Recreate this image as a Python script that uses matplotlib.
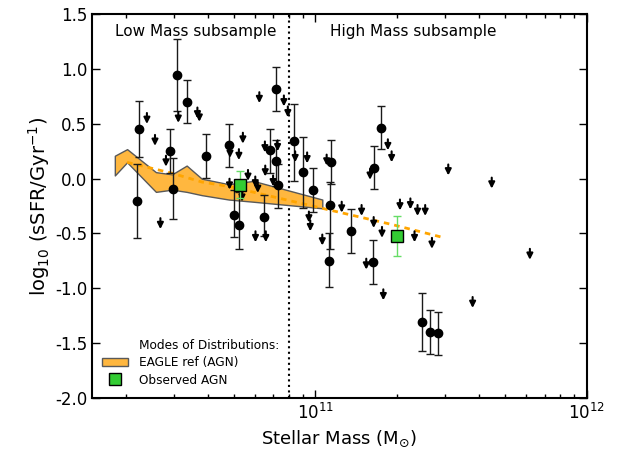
import numpy as np
import matplotlib.pyplot as plt
from matplotlib.patches import Patch
from matplotlib.lines import Line2D

# detections: stellar mass, log sSFR and the two ends of the error bar
det_mass = [2.23e10, 2.20e10, 3.08e10, 3.37e10, 2.90e10, 2.99e10, 3.94e10, 4.82e10,
            5.01e10, 5.21e10, 6.47e10, 6.81e10, 7.15e10, 7.16e10, 7.29e10, 8.32e10,
            8.97e10, 9.78e10, 1.14e11, 1.13e11, 1.12e11, 1.35e11, 1.63e11, 1.65e11,
            1.74e11, 2.47e11, 2.64e11, 2.84e11]
det_ssfr = [0.45, -0.20, 0.95, 0.70, 0.25, -0.09, 0.21, 0.31, -0.33, -0.42, -0.35, 0.26,
            0.16, 0.82, -0.06, 0.34, 0.06, -0.10, 0.15, -0.24, -0.75, -0.48, -0.76, 0.10,
            0.46, -1.31, -1.40, -1.41]
det_hi = [0.71, 0.13, 1.28, 0.90, 0.45, 0.19, 0.41, 0.50, -0.10, -0.12, -0.15, 0.45,
          0.35, 1.02, 0.13, 0.68, 0.38, 0.10, 0.35, -0.03, -0.50, -0.28, -0.56, 0.30,
          0.66, -1.04, -1.20, -1.22]
det_lo = [0.20, -0.54, 0.62, 0.51, 0.05, -0.37, 0.01, 0.11, -0.53, -0.64, -0.52, 0.05,
          -0.07, 0.62, -0.27, -0.02, -0.27, -0.30, -0.05, -0.64, -0.99, -0.68, -0.96, -0.09,
          0.27, -1.57, -1.60, -1.61]

# upper limits
lim_mass = [2.39e10, 2.56e10, 3.12e10, 3.67e10, 3.73e10, 2.81e10, 2.68e10, 5.40e10, 5.22e10, 4.84e10,
            4.82e10, 6.21e10, 6.01e10, 5.64e10, 6.00e10, 6.13e10, 5.36e10, 7.65e10, 7.91e10, 6.51e10,
            7.25e10, 6.53e10, 6.98e10, 8.42e10, 9.32e10, 1.10e11, 6.56e10, 9.46e10, 9.57e10, 1.06e11,
            1.25e11, 1.48e11, 1.59e11, 1.85e11, 1.91e11, 1.64e11, 1.76e11, 1.54e11, 1.78e11, 2.05e11,
            2.24e11, 2.38e11, 2.54e11, 2.32e11, 2.69e11, 3.09e11, 4.47e11, 6.18e11, 3.80e11]
lim_ssfr = [0.60, 0.40, 0.61, 0.65, 0.62, 0.21, -0.36, 0.42, 0.27, 0.29,
            0.00, 0.79, -0.48, 0.08, 0.02, -0.03, -0.11, 0.76, 0.66, 0.34,
            0.35, 0.12, 0.03, 0.25, 0.24, 0.22, -0.48, -0.30, -0.38, -0.51,
            -0.21, -0.24, 0.09, 0.36, 0.25, -0.35, -0.44, -0.73, -1.01, -0.19,
            -0.18, -0.24, -0.24, -0.48, -0.54, 0.13, 0.01, -0.64, -1.08]

# EAGLE ref band and its dashed continuation
band_mass = [1.82e10, 2.02e10, 2.58e10, 2.96e10, 3.35e10, 3.81e10, 4.79e10, 5.9e10, 1.06e11]
band_hi = [0.21, 0.27, 0.06, 0.04, 0.12, 0.00, -0.05, -0.02, -0.19]
band_lo = [0.03, 0.15, -0.12, -0.10, -0.12, -0.15, -0.19, -0.21, -0.27]
mode_mass = [2.02e10, 2.96e10, 3.81e10, 4.79e10, 1.06e11, 1.93e11, 2.94e11]
mode_ssfr = [0.15, 0.05, -0.03, -0.07, -0.27, -0.42, -0.535]

# observed AGN modes
agn_mass = [5.26e10, 2.0e11]
agn_ssfr = [-0.06, -0.52]
agn_hi = [0.07, -0.34]
agn_lo = [-0.18, -0.71]

split_mass = 8e10

band_col = '#FFB73F'

fig = plt.figure(figsize=(6.22, 4.51), dpi=100)
ax = fig.add_axes([0.148, 0.118, 0.795, 0.850])

ax.fill_between(band_mass, band_lo, band_hi, facecolor=band_col, edgecolor='0.35', lw=1, zorder=2)
ax.plot(mode_mass, mode_ssfr, color='orange', lw=2, dashes=(2, 1.8), zorder=3)

y = np.array(det_ssfr)
yerr = [y - np.array(det_lo), np.array(det_hi) - y]
ax.errorbar(det_mass, y, yerr=yerr, fmt='o', color='k', ms=6, ecolor='0.1',
            elinewidth=1, capsize=3, capthick=1, zorder=4)

# upper limits as down arrows
for m, s in zip(lim_mass, lim_ssfr):
    ax.annotate('', xy=(m, s - 0.1), xytext=(m, s),
                arrowprops=dict(arrowstyle='-|>', color='k', lw=1.5, mutation_scale=9,
                                shrinkA=0, shrinkB=0), zorder=5)

ya = np.array(agn_ssfr)
yerr_a = [ya - np.array(agn_lo), np.array(agn_hi) - ya]
ax.errorbar(agn_mass, ya, yerr=yerr_a, fmt='s', mfc='#33CC33', mec='k', mew=1, ms=9,
            ecolor='#66DD66', elinewidth=1, capsize=3, capthick=1, zorder=6)

ax.axvline(split_mass, color='k', ls=':', lw=1.5, zorder=1)

ax.set_xscale('log')
ax.set_xlim(1.5e10, 1e12)
ax.set_ylim(-2.0, 1.5)
ax.set_yticks(np.arange(-2.0, 1.51, 0.5))
ax.yaxis.set_major_formatter(plt.FormatStrFormatter('%.1f'))

ax.text(0.21, 0.955, 'Low Mass subsample', transform=ax.transAxes, ha='center', va='center', fontsize=11)
ax.text(0.65, 0.955, 'High Mass subsample', transform=ax.transAxes, ha='center', va='center', fontsize=11)

ax.set_xlabel(r'Stellar Mass (M$_{\odot}$)', fontsize=13)
ax.set_ylabel(r'log$_{10}$ (sSFR/Gyr$^{-1}$)', fontsize=14, labelpad=2)

ax.tick_params(which='both', direction='in', top=True, right=True, labelsize=12)
ax.tick_params(which='major', length=6, width=1)
ax.tick_params(which='minor', length=3, width=1)
for sp in ax.spines.values():
    sp.set_linewidth(1.5)

handles = [Line2D([], [], ls='none'),
           Patch(facecolor=band_col, edgecolor='0.35'),
           Line2D([], [], marker='s', ls='none', mfc='#33CC33', mec='k', ms=9)]
labels = ['Modes of Distributions:', 'EAGLE ref (AGN)', 'Observed AGN']
ax.legend(handles, labels, loc='lower left', frameon=False, fontsize=8.7,
          bbox_to_anchor=(0.005, 0.01), borderaxespad=0.2, handlelength=2.2,
          handletextpad=0.9, labelspacing=0.35)

fig.savefig('out.png', dpi=100)
